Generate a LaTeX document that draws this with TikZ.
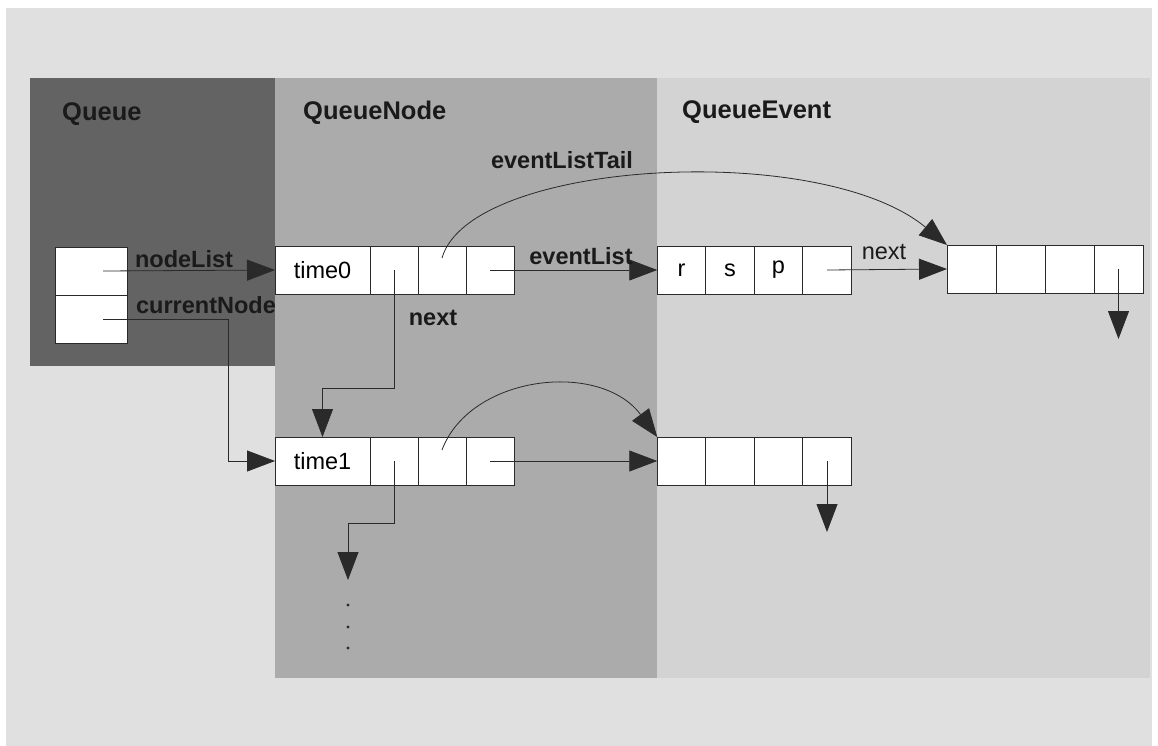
\documentclass[tikz,border=0pt]{standalone}
\usepackage{fontspec}
\setmainfont{Liberation Sans}
\usetikzlibrary{arrows.meta}

\definecolor{pageedge}{HTML}{FFFFFF}
\definecolor{outerbg}{HTML}{E0E0E0}
\definecolor{queuebg}{HTML}{636363}
\definecolor{nodebg}{HTML}{ABABAB}
\definecolor{eventbg}{HTML}{D3D3D3}
\definecolor{linec}{HTML}{2A2A2A}
\definecolor{textc}{HTML}{1A1A1A}

\newcommand\celltext{\fontsize{23.5}{26}\selectfont}
\newcommand\lbltext{\fontsize{23.5}{26}\selectfont\bfseries}
\newcommand\ttltext{\fontsize{25.5}{28}\selectfont\bfseries}

\begin{document}
\begin{tikzpicture}[x=1pt,y=-1pt,
  cell/.style={draw=linec, fill=white, line width=0.7pt, minimum width=48pt,
    minimum height=48pt, inner sep=0pt, outer sep=0pt, font=\celltext, text=black},
  wide/.style={cell, minimum width=95pt},
  qcell/.style={cell, minimum width=72pt},
  ecell/.style={cell, minimum width=48.5pt},
  fcell/.style={cell, minimum width=49pt},
  ptr/.style={draw=linec, line width=0.8pt,
    -{Triangle[length=28pt,width=21pt]}},
  lbl/.style={inner sep=0pt, font=\lbltext, text=textc},
  plain/.style={inner sep=0pt, font=\celltext, text=textc},
  ttl/.style={inner sep=0pt, anchor=west, font=\ttltext, text=textc},
]
\useasboundingbox (0,0) rectangle (1158,746);

% page and the three class areas
\fill[pageedge] (0,0) rectangle (1158,746);
\fill[outerbg] (6,8) rectangle (1152,746);
\fill[eventbg] (657,78) rectangle (1150,678);
\fill[nodebg] (275,78) rectangle (657,678);
\fill[queuebg] (30,78) rectangle (275,366);

\node[ttl] (tq) at (62,114) {Queue};
\node[ttl] (tn) at (303,113) {QueueNode};
\node[ttl] (te) at (682,112) {QueueEvent};

% Queue record
\node[qcell] (q1) at (91,271) {};
\node[qcell] (q2) at (91,319) {};

% QueueNode records
\node[wide] (t0) at (322.5,270) {time0};
\node[cell] (t0a) at (394,270) {};
\node[cell] (t0b) at (442,270) {};
\node[cell] (t0c) at (490,270) {};

\node[wide] (t1) at (322.5,461) {time1};
\node[cell] (t1a) at (394,461) {};
\node[cell] (t1b) at (442,461) {};
\node[cell] (t1c) at (490,461) {};

% QueueEvent records
\node[ecell] (e0r) at (681.5,270) {r};
\node[ecell] (e0s) at (730,270) {s};
\node[ecell] (e0p) at (778.5,270) {p};
\node[ecell] (e0n) at (827,270) {};

\node[fcell] (e1a) at (971.5,269) {};
\node[fcell] (e1b) at (1020.5,269) {};
\node[fcell] (e1c) at (1069.5,269) {};
\node[fcell] (e1d) at (1118.5,269) {};

\node[ecell] (e2a) at (681.5,461) {};
\node[ecell] (e2b) at (730,461) {};
\node[ecell] (e2c) at (778.5,461) {};
\node[ecell] (e2d) at (827,461) {};

% free ends of the open pointers
\coordinate (t1next) at (348,580);
\coordinate (e1end) at (1118.5,339);
\coordinate (e2end) at (827,532);

% pointers
\draw[ptr] ([xshift=12pt]q1.center) -- (t0.west);
\draw[ptr] ([xshift=12pt]q2.center) -- ++(125,0) |- (t1.west);
\draw[ptr] (t0a.center) -- ++(0,118) -| (t1.north);
\draw[ptr] ([yshift=12pt]t0b.center) .. controls (470,160) and (820,140) .. (e1a.north west);
\draw[ptr] (t0c.center) -- (e0r.west);
\draw[ptr] (e0n.center) -- (e1a.west);
\draw[ptr] (e1d.center) -- (e1end);

\draw[ptr] (t1a.center) -- ++(0,62) -| (t1next);
\draw[ptr] ([yshift=11pt]t1b.center) .. controls (470,375) and (600,360) .. (e2a.north west);
\draw[ptr] (t1c.center) -- (e2a.west);
\draw[ptr] (e2d.center) -- (e2end);

% continuation dots
\foreach \yy/\nm in {605/d1,627/d2,648/d3}
  \fill[linec] (348,\yy) circle (1.6pt) coordinate (\nm);

% field labels
\node[lbl] (lnl) at (184,259) {nodeList};
\node[lbl] (lcn) at (206,305) {currentNode};
\node[lbl] (lel) at (581,256) {eventList};
\node[lbl] (lelt) at (562,160) {eventListTail};
\node[lbl] (lnx) at (433,318) {next};
\node[plain] (lnx2) at (884,252) {next};
\end{tikzpicture}
\end{document}
